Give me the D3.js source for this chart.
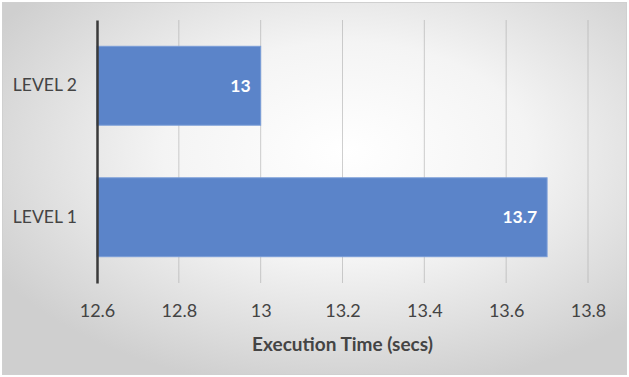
<!DOCTYPE html>
<html>
<head>
<meta charset="utf-8">
<script src="https://cdn.jsdelivr.net/npm/d3@7"></script>
<style>
  body { margin: 0; background: #fff; }
  svg { display: block; }
  text { font-family: Lato, "Open Sans", sans-serif; }
</style>
</head>
<body>
<div id="chart"></div>
<script>
// data
const levels = ["LEVEL 2", "LEVEL 1"];
const times = [13, 13.7];
const xTicks = [12.6, 12.8, 13, 13.2, 13.4, 13.6, 13.8];
const xTitle = "Execution Time (secs)";

const W = 629, H = 377;
const margin = { top: 20, right: 41, bottom: 94, left: 97 };
const width = W - margin.left - margin.right;
const height = H - margin.top - margin.bottom;

const svg = d3.select("#chart").append("svg")
    .attr("width", W).attr("height", H);

// background, grey at the edges and white in the middle
const defs = svg.append("defs");
const grad = defs.append("radialGradient").attr("id", "bg")
    .attr("cx", "55%").attr("cy", "40%").attr("r", "65%");
grad.append("stop").attr("offset", "0%").attr("stop-color", "#ffffff");
grad.append("stop").attr("offset", "45%").attr("stop-color", "#f4f4f4");
grad.append("stop").attr("offset", "100%").attr("stop-color", "#cfcfcf");

svg.append("rect")
    .attr("x", 2.5).attr("y", 2.5)
    .attr("width", W - 5).attr("height", H - 5)
    .attr("fill", "url(#bg)")
    .attr("stroke", "#d0d0d0");

const g = svg.append("g")
    .attr("transform", `translate(${margin.left},${margin.top})`);

const x = d3.scaleLinear().domain([12.6, 13.8]).range([0, width]);
const y = d3.scaleBand().domain(levels).range([0, height]).paddingInner(0.4).paddingOuter(0.2);

// gridlines
g.append("g")
    .selectAll("line")
    .data(xTicks.slice(1))
    .join("line")
    .attr("x1", d => x(d)).attr("x2", d => x(d))
    .attr("y1", 0).attr("y2", height)
    .attr("stroke", "#a8a8a8")
    .attr("stroke-opacity", 0.55);

// bars
g.append("g")
    .selectAll("rect")
    .data(levels)
    .join("rect")
    .attr("x", x(12.6))
    .attr("y", d => y(d))
    .attr("width", (d, i) => x(times[i]) - x(12.6))
    .attr("height", y.bandwidth())
    .attr("fill", "#5b84c9")
    .attr("stroke", "#7a9dd8")
    .attr("stroke-width", 1);

// value labels inside the bar ends
g.append("g")
    .selectAll("text")
    .data(levels)
    .join("text")
    .attr("x", (d, i) => x(times[i]) - 10)
    .attr("y", d => y(d) + y.bandwidth() / 2)
    .attr("dy", "0.35em")
    .attr("text-anchor", "end")
    .attr("fill", "#fff")
    .attr("font-weight", "bold")
    .attr("font-size", 17.5)
    .text((d, i) => times[i]);

// y axis
const yAxis = g.append("g")
    .call(d3.axisLeft(y).tickSize(0).tickPadding(20));
yAxis.select(".domain").attr("stroke", "#3a3a3a").attr("stroke-width", 2.5);
yAxis.selectAll("text")
    .attr("font-family", "Lato, sans-serif")
    .attr("font-size", 17.5)
    .attr("fill", "#444");

// x axis, labels only
const xAxis = g.append("g")
    .attr("transform", `translate(0,${height})`)
    .call(d3.axisBottom(x).tickValues(xTicks).tickSize(0).tickPadding(21)
        .tickFormat(d3.format("")));
xAxis.select(".domain").remove();
xAxis.selectAll("text")
    .attr("font-family", "Lato, sans-serif")
    .attr("font-size", 18)
    .attr("fill", "#444");

svg.append("text")
    .attr("x", margin.left + width / 2)
    .attr("y", 344)
    .attr("dy", "0.35em")
    .attr("text-anchor", "middle")
    .attr("font-weight", "bold")
    .attr("font-size", 19)
    .attr("fill", "#444")
    .text(xTitle);
</script>
</body>
</html>
